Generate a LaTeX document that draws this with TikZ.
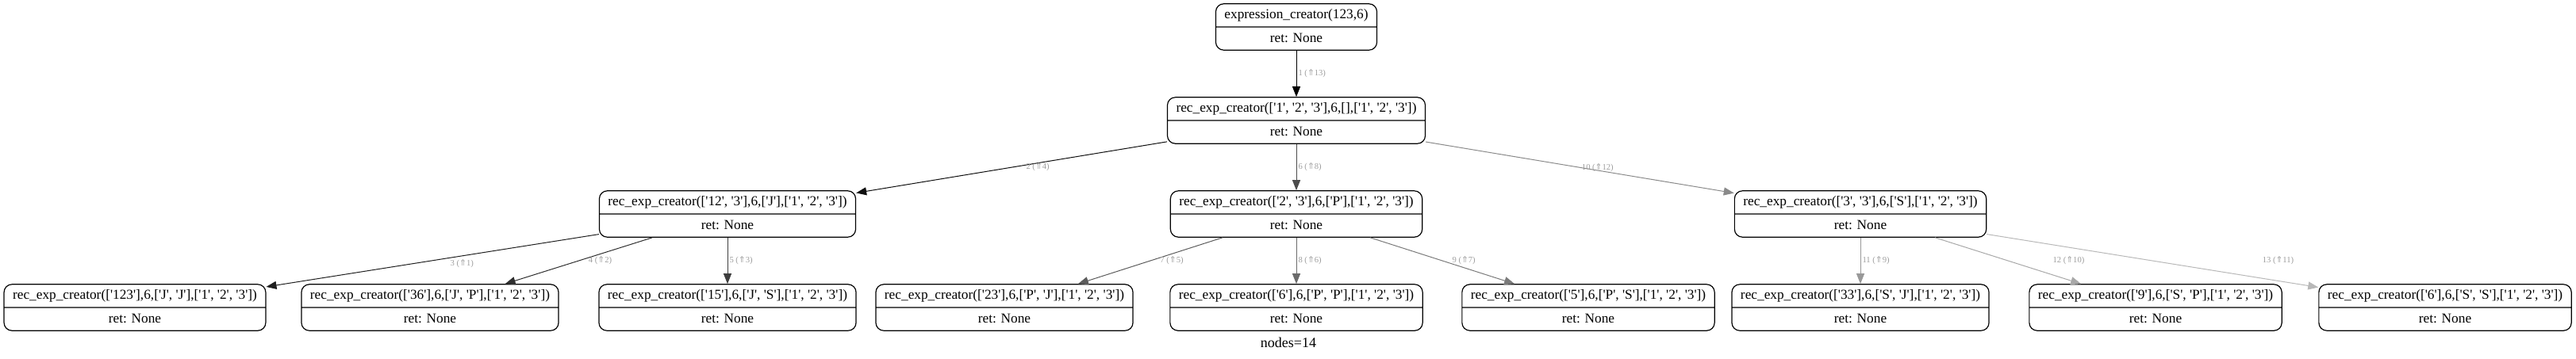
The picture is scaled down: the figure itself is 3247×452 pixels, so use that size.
\documentclass[tikz,border=0pt]{standalone}
\usepackage{fontspec}
\setmainfont{Liberation Serif}[Ligatures=TeXOff]
\newfontfamily\arrfont{DejaVu Sans}
\usetikzlibrary{shapes.multipart,arrows.meta}
\newcommand\upar{{\arrfont\char"21D1}}
\newcommand\st{\rule[-2pt]{0pt}{8.5pt}}
\tikzset{
  fn/.style={rectangle split, rectangle split parts=2, draw, rounded corners=5pt,
    line width=0.6pt, font=\fontsize{8.65}{10}\selectfont, inner xsep=5.5pt,
    inner ysep=2.75pt, align=center},
  ed/.style={-{Triangle[length=6.5pt,width=5pt]}, line width=0.5pt},
  lab/.style={font=\fontsize{5.3}{6}\selectfont, text=black!38, anchor=west, inner sep=1pt}
}
\begin{document}
\begin{tikzpicture}[x=0.5pt,y=-0.5pt]
\useasboundingbox (0,0) rectangle (3247,452);
\node[fn] (r) at (1634,34) {\st expression\_creator(123,6)\nodepart{two}\st ret: None};
\node[fn] (n1) at (1634,152) {\st rec\_exp\_creator(['1', '2', '3'],6,[],['1', '2', '3'])\nodepart{two}\st ret: None};
\node[fn] (n2) at (917,270) {\st rec\_exp\_creator(['12', '3'],6,['J'],['1', '2', '3'])\nodepart{two}\st ret: None};
\node[fn] (n6) at (1634,270) {\st rec\_exp\_creator(['2', '3'],6,['P'],['1', '2', '3'])\nodepart{two}\st ret: None};
\node[fn] (n10) at (2345,270) {\st rec\_exp\_creator(['3', '3'],6,['S'],['1', '2', '3'])\nodepart{two}\st ret: None};
\node[fn] (n3) at (170,388) {\st rec\_exp\_creator(['123'],6,['J', 'J'],['1', '2', '3'])\nodepart{two}\st ret: None};
\node[fn] (n4) at (542,388) {\st rec\_exp\_creator(['36'],6,['J', 'P'],['1', '2', '3'])\nodepart{two}\st ret: None};
\node[fn] (n5) at (917,388) {\st rec\_exp\_creator(['15'],6,['J', 'S'],['1', '2', '3'])\nodepart{two}\st ret: None};
\node[fn] (n7) at (1266,388) {\st rec\_exp\_creator(['23'],6,['P', 'J'],['1', '2', '3'])\nodepart{two}\st ret: None};
\node[fn] (n8) at (1634,388) {\st rec\_exp\_creator(['6'],6,['P', 'P'],['1', '2', '3'])\nodepart{two}\st ret: None};
\node[fn] (n9) at (2002,388) {\st rec\_exp\_creator(['5'],6,['P', 'S'],['1', '2', '3'])\nodepart{two}\st ret: None};
\node[fn] (n11) at (2345,388) {\st rec\_exp\_creator(['33'],6,['S', 'J'],['1', '2', '3'])\nodepart{two}\st ret: None};
\node[fn] (n12) at (2717,388) {\st rec\_exp\_creator(['9'],6,['S', 'P'],['1', '2', '3'])\nodepart{two}\st ret: None};
\node[fn] (n13) at (3082,388) {\st rec\_exp\_creator(['6'],6,['S', 'S'],['1', '2', '3'])\nodepart{two}\st ret: None};
\node[font=\fontsize{9}{10}\selectfont, inner sep=0pt] (cnt) at (1624,432) {nodes=14};
\draw[ed, draw=black!100] (r) -- node[lab, pos=0.5] {1 (\upar13)} (n1);
\draw[ed, draw=black!94] (n1) -- node[lab, pos=0.5, xshift=8pt] {2 (\upar4)} (n2);
\draw[ed, draw=black!88] (n2) -- node[lab, pos=0.5, xshift=10pt, yshift=-2pt] {3 (\upar1)} (n3);
\draw[ed, draw=black!82] (n2) -- node[lab, pos=0.5, xshift=5pt] {4 (\upar2)} (n4);
\draw[ed, draw=black!76] (n2) -- node[lab, pos=0.5] {5 (\upar3)} (n5);
\draw[ed, draw=black!70] (n1) -- node[lab, pos=0.5] {6 (\upar8)} (n6);
\draw[ed, draw=black!64] (n6) -- node[lab, pos=0.5, xshift=5pt] {7 (\upar5)} (n7);
\draw[ed, draw=black!58] (n6) -- node[lab, pos=0.5] {8 (\upar6)} (n8);
\draw[ed, draw=black!52] (n6) -- node[lab, pos=0.5, xshift=5pt] {9 (\upar7)} (n9);
\draw[ed, draw=black!46] (n1) -- node[lab, pos=0.5] {10 (\upar12)} (n10);
\draw[ed, draw=black!40] (n10) -- node[lab, pos=0.5] {11 (\upar9)} (n11);
\draw[ed, draw=black!34] (n10) -- node[lab, pos=0.5, xshift=27pt] {12 (\upar10)} (n12);
\draw[ed, draw=black!28] (n10) -- node[lab, pos=0.5, xshift=68pt] {13 (\upar11)} (n13);
\end{tikzpicture}
\end{document}
